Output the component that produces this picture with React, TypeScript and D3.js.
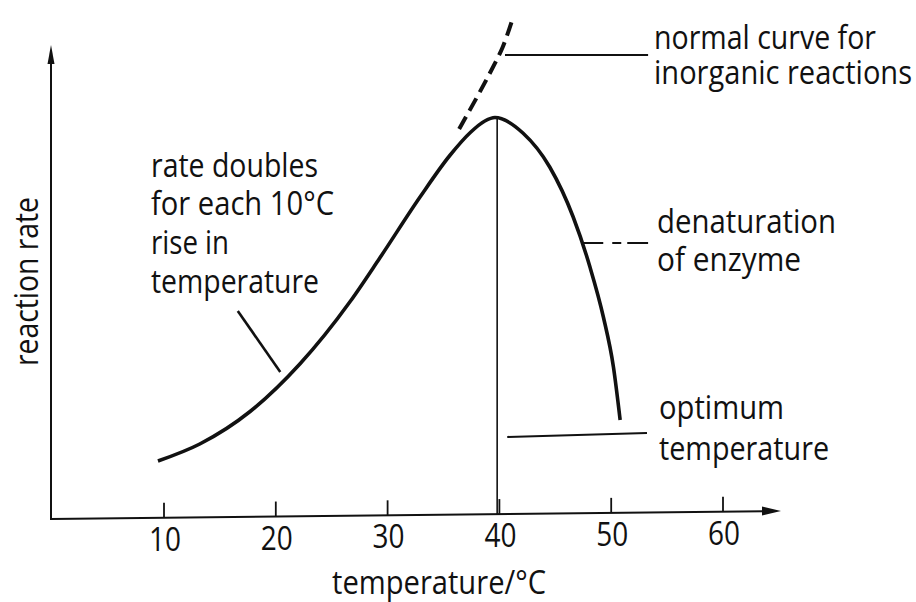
import React from 'react';
import * as d3 from 'd3';

// ---- data ----
const tickTemps = [10, 20, 30, 40, 50, 60];
const tickLabels = ['10', '20', '30', '40', '50', '60'];

// enzyme-catalysed reaction rate (arbitrary units, 0-100)
const enzymeTemp = [9.46, 13.2, 17.7, 22.15, 26.65, 29.3, 32.9, 35.6, 37.4, 38.7, 39.6, 42.1, 44.5, 46.6, 48.1, 49.3, 50.2, 50.8];
const enzymeRate = [11.6, 15.0, 21.5, 31.0, 43.5, 52.2, 64.4, 72.8, 77.3, 79.6, 80.3, 77.2, 70.4, 60.4, 50.4, 40.4, 30.4, 19.8];

// normal curve for inorganic reactions (dashed continuation)
const inorganicTemp = [36.4, 38.0, 39.2, 40.3, 41.2];
const inorganicRate = [78.0, 84.4, 89.4, 94.4, 100.2];

const optimumTemp = 39.8;
const optimumRate = 80.3;

// annotation texts
const leftNote = ['rate doubles', 'for each 10\u00B0C', 'rise in', 'temperature'];
const inorganicNote = ['normal curve for', 'inorganic reactions'];
const denatNote = ['denaturation', 'of enzyme'];
const optimumNote = ['optimum', 'temperature'];
const xTitle = 'temperature/\u00B0C';
const yTitle = 'reaction rate';

// ---- layout ----
const W = 916;
const H = 602;
const FONT = "'Open Sans', 'DejaVu Sans', sans-serif";
const INK = '#111';

const x = d3.scaleLinear().domain([0, 60]).range([52.2, 52.2 + 670.8]);
const y = d3.scaleLinear().domain([0, 100]).range([519, 19]);

const axisX0 = 51;
const axisX1 = 781;
const axisYAt = (px: number) => 519 - (px - axisX0) * (8 / (axisX1 - axisX0));

const leftNoteLayout = { x: 151, baselines: [177, 215, 254, 293], widths: [167, 183, 78, 168] };
const inorgLayout = { x: 654, baselines: [49, 84], widths: [222, 258] };
const denatLayout = { x: 657, baselines: [233, 271], widths: [179, 144] };
const optLayout = { x: 659, baselines: [419, 460], widths: [125, 170] };

// leader lines in data coordinates
const leaders = {
  inorganic: { t: [40.5, 53.3], r: [92.8, 92.8] },
  denat: { t: [47.5, 53.3], r: [55.2, 55.2] },
  optimum: { t: [40.7, 53.2], r: [16.4, 17.2] },
  doubles: { t: [16.6, 20.4], r: [41.6, 29.4] },
};

function Txt({ x: tx, y: ty, w, children, size = 32, anchor = 'start', transform }: any) {
  return (
    <text
      x={tx}
      y={ty}
      fontSize={size}
      fontFamily={FONT}
      fill={INK}
      textAnchor={anchor}
      textLength={w}
      lengthAdjust="spacingAndGlyphs"
      transform={transform}
    >
      {children}
    </text>
  );
}

export default function App() {
  const enzymePts: [number, number][] = enzymeTemp.map((t, i) => [x(t), y(enzymeRate[i])]);
  const inorgPts: [number, number][] = inorganicTemp.map((t, i) => [x(t), y(inorganicRate[i])]);
  const line = d3.line<[number, number]>().curve(d3.curveCatmullRom.alpha(0.5));
  const smooth = d3.line<[number, number]>().curve(d3.curveMonotoneX);

  const leaderLine = (l: { t: number[]; r: number[] }) => ({
    x1: x(l.t[0]),
    y1: y(l.r[0]),
    x2: x(l.t[1]),
    y2: y(l.r[1]),
  });

  const ox = x(optimumTemp);

  return (
    <svg
      width={W}
      height={H}
      viewBox={`0 0 ${W} ${H}`}
      style={{ position: 'absolute', left: 0, top: 0, display: 'block', background: '#fff' }}
    >
      <rect x={0} y={0} width={W} height={H} fill="#fff" />

      {/* y axis */}
      <line x1={axisX0} y1={60} x2={axisX0} y2={axisYAt(axisX0) + 1} stroke={INK} strokeWidth={2} />
      <path d={`M${axisX0},45 L${axisX0 + 3.5},64 L${axisX0 - 3.5},64 Z`} fill={INK} />

      {/* x axis */}
      <line x1={axisX0} y1={axisYAt(axisX0)} x2={axisX1 - 16} y2={axisYAt(axisX1 - 16)} stroke={INK} strokeWidth={2} />
      <path
        d={`M${axisX1},${axisYAt(axisX1)} L${axisX1 - 19},${axisYAt(axisX1) - 4.5} L${axisX1 - 19},${axisYAt(axisX1) + 4.5} Z`}
        fill={INK}
      />

      {/* ticks */}
      {tickTemps.map((t, i) => {
        const px = x(t);
        const ay = axisYAt(px);
        return (
          <g key={t}>
            <line x1={px} y1={ay} x2={px} y2={ay - 15} stroke={INK} strokeWidth={1.8} />
            <Txt x={px + 1} y={ay + 33} w={32} size={33} anchor="middle">
              {tickLabels[i]}
            </Txt>
          </g>
        );
      })}

      {/* axis titles */}
      <Txt x={332} y={594} w={214}>
        {xTitle}
      </Txt>
      <Txt x={38} y={366} w={169} transform="rotate(-90 38 366)">
        {yTitle}
      </Txt>

      {/* optimum vertical line */}
      <line x1={ox} y1={y(optimumRate)} x2={ox} y2={axisYAt(ox)} stroke={INK} strokeWidth={1.6} />

      {/* dashed inorganic curve */}
      <path
        d={line(inorgPts) || ''}
        fill="none"
        stroke={INK}
        strokeWidth={4}
        strokeDasharray="14 7"
      />

      {/* enzyme curve */}
      <path d={smooth(enzymePts) || ''} fill="none" stroke={INK} strokeWidth={3.6} strokeLinecap="butt" />

      {/* leader lines */}
      <line {...leaderLine(leaders.inorganic)} stroke={INK} strokeWidth={2.2} />
      <line {...leaderLine(leaders.denat)} stroke={INK} strokeWidth={2} strokeDasharray="20 9 9 6 30" />
      <line {...leaderLine(leaders.optimum)} stroke={INK} strokeWidth={2.2} />
      <line {...leaderLine(leaders.doubles)} stroke={INK} strokeWidth={2.6} />

      {/* annotations */}
      {leftNote.map((s, i) => (
        <Txt key={'l' + i} x={leftNoteLayout.x} y={leftNoteLayout.baselines[i]} w={leftNoteLayout.widths[i]}>
          {s}
        </Txt>
      ))}
      {inorganicNote.map((s, i) => (
        <Txt key={'n' + i} x={inorgLayout.x} y={inorgLayout.baselines[i]} w={inorgLayout.widths[i]}>
          {s}
        </Txt>
      ))}
      {denatNote.map((s, i) => (
        <Txt key={'d' + i} x={denatLayout.x} y={denatLayout.baselines[i]} w={denatLayout.widths[i]}>
          {s}
        </Txt>
      ))}
      {optimumNote.map((s, i) => (
        <Txt key={'o' + i} x={optLayout.x} y={optLayout.baselines[i]} w={optLayout.widths[i]}>
          {s}
        </Txt>
      ))}
    </svg>
  );
}
